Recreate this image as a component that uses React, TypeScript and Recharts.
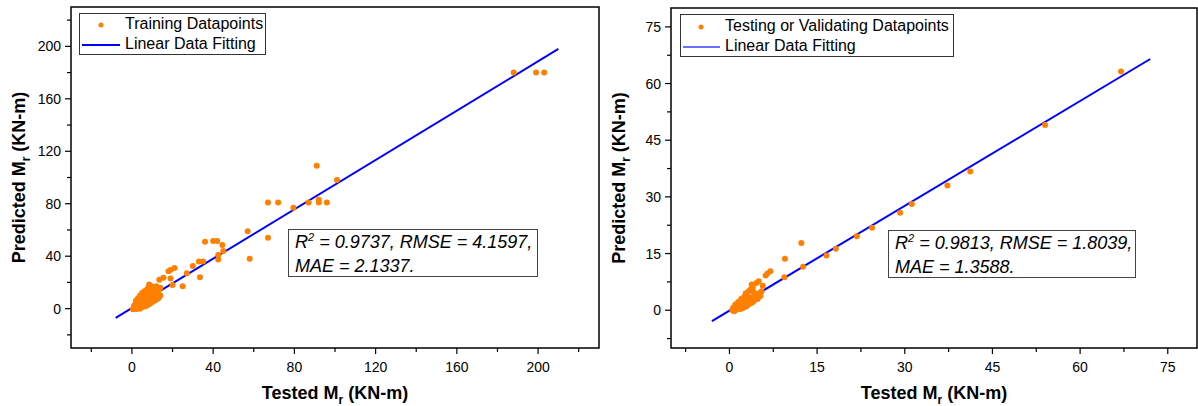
import React from 'react';
import { ScatterChart, Scatter, XAxis, YAxis, ReferenceArea, ReferenceLine, Legend } from 'recharts';

// [tested, predicted] pairs
const trainingPoints: [number, number][] = [
  [203, 180], [199, 180], [188, 180],
  [101, 98], [91, 109],
  [96, 81], [92, 83], [92, 81], [87, 81], [79.5, 77], [72, 81], [67, 81], [67, 54],
  [57, 59], [58, 38],
  [45, 44], [44.5, 48.5], [42.5, 41], [42.5, 37.5], [42, 51.5], [40, 51.5], [36, 51],
  [35, 36], [33, 36], [33.5, 24], [30, 32.5], [27, 27], [25, 17], [21, 31], [19, 29.5],
  [18, 28.5], [20, 18], [19, 23], [15.5, 23.5], [13.5, 22], [12, 17], [8.5, 18.5],
  [0.5, -0.5], [1, 0], [1.5, 0.5], [2, -0.5], [2.5, 1], [3, 0.5], [3.5, 1.5], [4, 0],
  [4.5, 1], [5, 2], [5.5, 1.5], [6, 2.5], [6.5, 3], [7, 2], [7.5, 3.5], [8, 3],
  [8.5, 4.5], [9, 4], [9.5, 5.5], [10, 5], [10.5, 6.5], [11, 6], [11.5, 7.5], [12, 7],
  [12.5, 8.5], [13, 8], [13.5, 9.5], [14, 10],
  [1, 2], [1.5, 3], [2, 4], [2.5, 3], [3, 5], [3.5, 4], [4, 6], [4.5, 7], [5, 8],
  [5.5, 6], [6, 9], [6.5, 10], [7, 11], [7.5, 8], [8, 12], [8.5, 10], [9, 13],
  [9.5, 11], [10, 14], [10.5, 12], [11, 15], [12, 13], [13, 14], [14, 16], [4, 10],
  [5, 12], [6, 13], [7, 14], [8, 16], [9.5, 17], [3, 8], [2, 6],
  [2, 2], [3, 3], [4, 4], [5, 5], [6, 6], [7, 7], [8, 8], [9, 9], [10, 10], [11, 11],
  [12, 11], [6, 4], [7, 5], [8, 6], [9, 7], [10, 8], [11, 9], [12, 10], [13, 11],
];

const testingPoints: [number, number][] = [
  [67, 63.2], [54, 49], [41.2, 36.7], [37.3, 33], [31.2, 28.1], [29.2, 25.8],
  [24.4, 21.8], [21.8, 19.6], [18.2, 16.3], [16.6, 14.5], [12.6, 11.5], [12.3, 17.8],
  [9.5, 13.6], [9.4, 8.7], [7, 10.3], [6.5, 9.7], [6.2, 9.2], [5, 7.7], [4.6, 7.2],
  [5.7, 6.5],
  [0.5, 0], [0.8, -0.3], [1, 0.5], [1.2, 0.2], [1.5, 1], [1.8, 0.3], [2, 1.5],
  [2.2, 0.5], [2.5, 2], [2.8, 1], [3, 2.5], [3.2, 1.5], [3.5, 3], [3.8, 2], [4, 3.5],
  [4.2, 2.5], [4.5, 4], [4.8, 3], [5, 4.5], [5.3, 3.8], [5.5, 5], [1, 1.5], [1.5, 2.2],
  [2, 3], [2.5, 3.5], [3, 4], [3.3, 5], [3.6, 5.5], [4, 6], [3.8, 6.8], [2.8, 4.5],
  [2.2, 2.5], [1.3, 0.8], [3.5, 1.8], [4.5, 3.2], [2.5, 0.8], [3, 1.2], [4, 2.2],
  [5, 3.5], [1.8, 1.8], [2.7, 2.7], [3.4, 3.4], [4.2, 4.6], [1, 0], [2, 0.5], [0.6, 0.6],
];

const trainingFit: [number, number][] = [[-8, -7], [210, 198]];
const testingFit: [number, number][] = [[-3, -2.9], [72, 66.5]];

const trainingDomain = [-30, 230];
const testingDomain = [-10, 80];
const trainingTicks = [-20, 0, 20, 40, 60, 80, 100, 120, 140, 160, 180, 200, 220];
const trainingMajor = [0, 40, 80, 120, 160, 200];
const testingTicks = [-7.5, 0, 7.5, 15, 22.5, 30, 37.5, 45, 52.5, 60, 67.5, 75];
const testingMajor = [0, 15, 30, 45, 60, 75];

const trainingStats = ['0.9737', '4.1597', '2.1337'];
const testingStats = ['0.9813', '1.8039', '1.3588'];

const ORANGE = '#ff8000';
const BLUE = '#0000ff';
const FONT = '"Liberation Sans", Arial, sans-serif';

const Dot = (props: any) => <circle cx={props.cx} cy={props.cy} r={3} fill={ORANGE} />;

const makeXTick = (major: number[]) => (props: any) => {
  const { x, y, payload } = props;
  const isMajor = major.includes(payload.value);
  return (
    <g>
      <line x1={x} x2={x} y1={y} y2={y + (isMajor ? 6 : 4)} stroke="#000" strokeWidth={1.2} />
      {isMajor && (
        <text x={x} y={y + 24} textAnchor="middle" fontSize={14} fontFamily={FONT} fill="#000">
          {payload.value}
        </text>
      )}
    </g>
  );
};

const makeYTick = (major: number[]) => (props: any) => {
  const { x, y, payload } = props;
  const isMajor = major.includes(payload.value);
  return (
    <g>
      <line x1={x - (isMajor ? 6 : 4)} x2={x} y1={y} y2={y} stroke="#000" strokeWidth={1.2} />
      {isMajor && (
        <text x={x - 10} y={y} dy={5} textAnchor="end" fontSize={14} fontFamily={FONT} fill="#000">
          {payload.value}
        </text>
      )}
    </g>
  );
};

const XTitle = (props: any) => {
  const vb = props.viewBox;
  return (
    <text x={vb.x + vb.width / 2} y={vb.y + 51} textAnchor="middle" fontFamily={FONT}
      fontWeight="bold" fontSize={18} fill="#000">
      Tested M<tspan fontSize={12} dy={5}>r</tspan><tspan dy={-5}> (KN-m)</tspan>
    </text>
  );
};

const YTitle = (props: any) => {
  const vb = props.viewBox;
  const bx = vb.x + 14;
  const cy = vb.y + vb.height / 2;
  return (
    <text x={bx} y={cy} transform={`rotate(-90, ${bx}, ${cy})`} textAnchor="middle"
      fontFamily={FONT} fontWeight="bold" fontSize={18} fill="#000">
      Predicted M<tspan fontSize={12} dy={5}>r</tspan><tspan dy={-5}> (KN-m)</tspan>
    </text>
  );
};

const LegendBox = ({ label, lineColor, width, height, dotX, dotY, lineY, textX }: any) => (
  <div style={{ position: 'relative', width, height, border: '1px solid #333', boxSizing: 'border-box',
    background: '#fff', fontFamily: FONT, fontSize: 16, color: '#000' }}>
    <svg width={44} height={height} style={{ position: 'absolute', left: 0, top: 0 }}>
      <circle cx={dotX} cy={dotY} r={2.5} fill={ORANGE} />
      <line x1={2} x2={textX - 5} y1={lineY} y2={lineY} stroke={lineColor} strokeWidth={2} />
    </svg>
    <div style={{ position: 'absolute', left: textX, top: dotY - 10, lineHeight: '18px', whiteSpace: 'nowrap' }}>{label}</div>
    <div style={{ position: 'absolute', left: textX, top: lineY - 10, lineHeight: '18px', whiteSpace: 'nowrap' }}>Linear Data Fitting</div>
  </div>
);

const StatBox = ({ stats, left, top, width }: any) => (
  <div style={{ position: 'absolute', left, top, width, height: 48, border: '1px solid #444',
    boxSizing: 'border-box', background: '#fff', fontFamily: FONT, fontStyle: 'italic',
    fontSize: 18, lineHeight: '22px', padding: '1px 0 0 6px', color: '#000', whiteSpace: 'nowrap' }}>
    <div>R<span style={{ fontSize: 11, position: 'relative', top: -7 }}>2</span> = {stats[0]}, RMSE = {stats[1]},</div>
    <div>MAE = {stats[2]}.</div>
  </div>
);

const toXY = (pts: [number, number][]) => pts.map(([x, y]) => ({ x, y }));

const Panel = ({ width, top, points, fit, domain, ticks, major, legend }: any) => (
  <ScatterChart width={width} height={406} margin={{ top, right: 1, bottom: 0, left: 11 }}>
    <ReferenceArea x1={domain[0]} x2={domain[1]} y1={domain[0]} y2={domain[1]} fill="none"
      fillOpacity={0} stroke="#000" strokeWidth={1.5} ifOverflow="visible" />
    <XAxis type="number" dataKey="x" domain={domain} ticks={ticks} interval={0} height={58}
      axisLine={false} tickLine={false} tickSize={0} tickMargin={0} tick={makeXTick(major)}
      label={XTitle} allowDataOverflow />
    <YAxis type="number" dataKey="y" domain={domain} ticks={ticks} interval={0} width={60}
      axisLine={false} tickLine={false} tickSize={0} tickMargin={0} tick={makeYTick(major)}
      label={YTitle} allowDataOverflow />
    <Scatter data={toXY(points)} shape={Dot} isAnimationActive={false} />
    <ReferenceLine segment={toXY(fit)} stroke={BLUE} strokeWidth={2} ifOverflow="visible" />
    <Legend layout="horizontal" verticalAlign="middle" align="center"
      wrapperStyle={{ left: legend.left, top: legend.top, width: legend.width, height: legend.height }}
      content={() => <LegendBox {...legend} />} />
  </ScatterChart>
);

export default function App() {
  return (
    <div style={{ position: 'absolute', left: 0, top: 0, width: 1198, height: 406, background: '#fff' }}>
      <div style={{ position: 'absolute', left: 0, top: 0 }}>
        <Panel width={600} top={7} points={trainingPoints} fit={trainingFit} domain={trainingDomain}
          ticks={trainingTicks} major={trainingMajor}
          legend={{ label: 'Training Datapoints', lineColor: BLUE, left: 79, top: 13, width: 187, height: 42,
            dotX: 21, dotY: 11, lineY: 31, textX: 45 }} />
      </div>
      <div style={{ position: 'absolute', left: 600, top: 0 }}>
        <Panel width={598} top={8} points={testingPoints} fit={testingFit} domain={testingDomain}
          ticks={testingTicks} major={testingMajor}
          legend={{ label: 'Testing or Validating Datapoints', lineColor: '#6f6fff', left: 80, top: 14,
            width: 274, height: 43, dotX: 20, dotY: 12, lineY: 32, textX: 44 }} />
      </div>
      <StatBox stats={trainingStats} left={288} top={229} width={250} />
      <StatBox stats={testingStats} left={888} top={230} width={248} />
    </div>
  );
}
